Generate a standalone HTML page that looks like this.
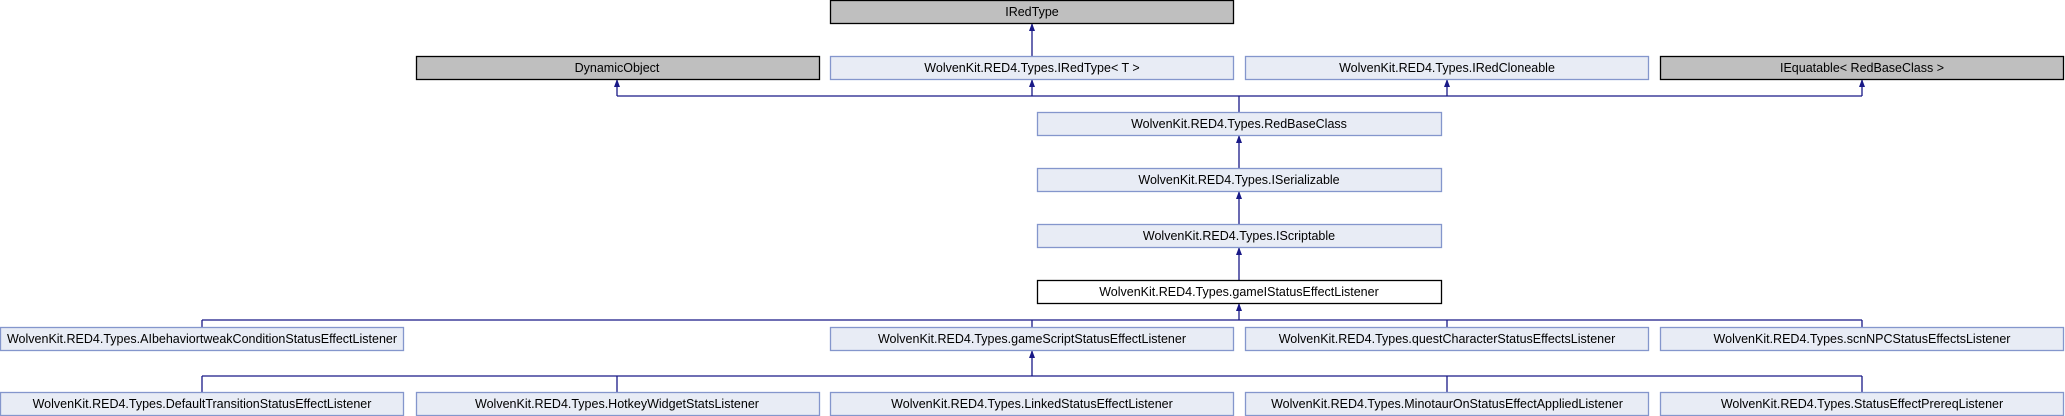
<!DOCTYPE html>
<html><head><meta charset="utf-8"><style>
html,body{margin:0;padding:0;background:#fff;width:2065px;height:416px;overflow:hidden}
svg text{font-family:"Liberation Sans",Arial,sans-serif;font-size:12.5px;fill:#000;text-anchor:middle;dominant-baseline:central}
.b{fill:#e8ecf5;stroke:#8496cc;stroke-width:1.3}
.g{fill:#bfbfbf;stroke:#000;stroke-width:1.3}
.w{fill:#fff;stroke:#000;stroke-width:1.3}
.l{stroke:#191987;stroke-width:1.3;fill:none}
.a{fill:#191987}
</style></head><body>
<svg width="2065" height="416" xmlns="http://www.w3.org/2000/svg">
<!-- lines -->
<path class="l" d="M1032 56 V23"/>
<path class="l" d="M617 96 H1862 M1239 96 V112 M617 96 V79 M1032 96 V79 M1447 96 V79 M1862 96 V79"/>
<path class="l" d="M1239 168 V135 M1239 224 V191 M1239 280 V247"/>
<path class="l" d="M202 320 H1862 M1239 320 V303 M202 320 V327 M1032 320 V327 M1447 320 V327 M1862 320 V327"/>
<path class="l" d="M202 376 H1862 M1032 376 V350 M202 376 V392 M617 376 V392 M1447 376 V392 M1862 376 V392"/>
<!-- arrowheads -->
<g class="a">
<polygon points="1032,23 1029,31 1035,31"/>
<polygon points="617,79 614,87 620,87"/>
<polygon points="1032,79 1029,87 1035,87"/>
<polygon points="1447,79 1444,87 1450,87"/>
<polygon points="1862,79 1859,87 1865,87"/>
<polygon points="1239,135 1236,143 1242,143"/>
<polygon points="1239,191 1236,199 1242,199"/>
<polygon points="1239,247 1236,255 1242,255"/>
<polygon points="1239,303 1236,311 1242,311"/>
<polygon points="1032,350 1029,358 1035,358"/>
</g>
<!-- boxes -->
<rect class="g" x="830.5" y="0.5" width="403" height="23"/><text x="1032" y="12">IRedType</text>
<rect class="g" x="416.5" y="56.5" width="403" height="23"/><text x="617" y="68">DynamicObject</text>
<rect class="b" x="830.5" y="56.5" width="403" height="23"/><text x="1032" y="68">WolvenKit.RED4.Types.IRedType&lt; T &gt;</text>
<rect class="b" x="1245.5" y="56.5" width="403" height="23"/><text x="1447" y="68">WolvenKit.RED4.Types.IRedCloneable</text>
<rect class="g" x="1660.5" y="56.5" width="403" height="23"/><text x="1862" y="68">IEquatable&lt; RedBaseClass &gt;</text>
<rect class="b" x="1037.5" y="112.5" width="404" height="23"/><text x="1239" y="124">WolvenKit.RED4.Types.RedBaseClass</text>
<rect class="b" x="1037.5" y="168.5" width="404" height="23"/><text x="1239" y="180">WolvenKit.RED4.Types.ISerializable</text>
<rect class="b" x="1037.5" y="224.5" width="404" height="23"/><text x="1239" y="236">WolvenKit.RED4.Types.IScriptable</text>
<rect class="w" x="1037.5" y="280.5" width="404" height="23"/><text x="1239" y="292">WolvenKit.RED4.Types.gameIStatusEffectListener</text>
<rect class="b" x="0.5" y="327.5" width="403" height="23"/><text x="202" y="339">WolvenKit.RED4.Types.AIbehaviortweakConditionStatusEffectListener</text>
<rect class="b" x="830.5" y="327.5" width="403" height="23"/><text x="1032" y="339">WolvenKit.RED4.Types.gameScriptStatusEffectListener</text>
<rect class="b" x="1245.5" y="327.5" width="403" height="23"/><text x="1447" y="339">WolvenKit.RED4.Types.questCharacterStatusEffectsListener</text>
<rect class="b" x="1660.5" y="327.5" width="403" height="23"/><text x="1862" y="339">WolvenKit.RED4.Types.scnNPCStatusEffectsListener</text>
<rect class="b" x="0.5" y="392.5" width="403" height="23"/><text x="202" y="404">WolvenKit.RED4.Types.DefaultTransitionStatusEffectListener</text>
<rect class="b" x="416.5" y="392.5" width="403" height="23"/><text x="617" y="404">WolvenKit.RED4.Types.HotkeyWidgetStatsListener</text>
<rect class="b" x="830.5" y="392.5" width="403" height="23"/><text x="1032" y="404">WolvenKit.RED4.Types.LinkedStatusEffectListener</text>
<rect class="b" x="1245.5" y="392.5" width="403" height="23"/><text x="1447" y="404">WolvenKit.RED4.Types.MinotaurOnStatusEffectAppliedListener</text>
<rect class="b" x="1660.5" y="392.5" width="403" height="23"/><text x="1862" y="404">WolvenKit.RED4.Types.StatusEffectPrereqListener</text>
</svg>
</body></html>
